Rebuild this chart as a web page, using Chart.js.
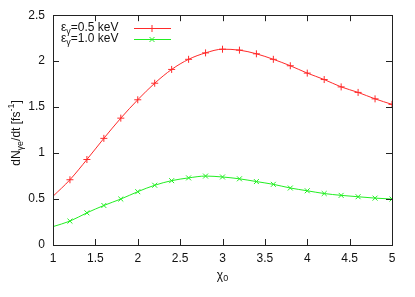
<!DOCTYPE html>
<html>
<head>
<meta charset="utf-8">
<script src="https://cdn.jsdelivr.net/npm/chart.js@4"></script>
<style>
html,body{margin:0;padding:0;background:#fff;}
#wrap{width:415px;height:297px;position:relative;}
</style>
</head>
<body>
<div id="wrap"><canvas id="c" width="415" height="297"></canvas></div>
<script>
const chi0 = [1.0,1.2,1.4,1.6,1.8,2.0,2.2,2.4,2.6,2.8,3.0,3.2,3.4,3.6,3.8,4.0,4.2,4.4,4.6,4.8,5.0];
const rate05 = [0.53,0.71,0.93,1.16,1.38,1.58,1.76,1.91,2.02,2.09,2.13,2.12,2.08,2.02,1.95,1.87,1.80,1.72,1.66,1.59,1.53];
const rate10 = [0.20,0.26,0.35,0.43,0.50,0.58,0.65,0.70,0.73,0.75,0.74,0.72,0.69,0.66,0.62,0.59,0.56,0.54,0.525,0.51,0.50];
const xTicks = [1,1.5,2,2.5,3,3.5,4,4.5,5];
const yTicks = [0,0.5,1,1.5,2,2.5];
const seriesNames = [["ε","γ","=0.5 keV"],["ε","γ","=1.0 keV"]];
const RED = '#ff2a2a', GREEN = '#22ee22';
const FONT = 'Liberation Sans, Arial, sans-serif';

function toXY(ys){ return chi0.map((x,i)=>({x:x,y:ys[i]})); }

const framePlugin = {
  id:'frame',
  afterDatasetsDraw(chart){
    const ctx = chart.ctx, a = chart.chartArea;
    const xs = chart.scales.x, ys = chart.scales.y;
    ctx.save();
    ctx.strokeStyle = '#222';
    ctx.lineWidth = 1;
    ctx.strokeRect(Math.round(a.left)+0.5, Math.round(a.top)+0.5, Math.round(a.right-a.left), Math.round(a.bottom-a.top));
    const L = 6;
    ctx.beginPath();
    xTicks.forEach(v=>{
      const px = Math.round(xs.getPixelForValue(v))+0.5;
      ctx.moveTo(px, a.bottom); ctx.lineTo(px, a.bottom-L);
      ctx.moveTo(px, a.top); ctx.lineTo(px, a.top+L);
    });
    yTicks.forEach(v=>{
      const py = Math.round(ys.getPixelForValue(v))+0.5;
      ctx.moveTo(a.left, py); ctx.lineTo(a.left+L, py);
      ctx.moveTo(a.right, py); ctx.lineTo(a.right-L, py);
    });
    ctx.stroke();

    // legend
    const colors=[RED,GREEN], styles=['cross','crossRot'];
    const rowY=[28,39];
    ctx.textBaseline='middle';
    seriesNames.forEach((parts,i)=>{
      let x = a.left+8, y = rowY[i];
      ctx.fillStyle='#111';
      ctx.font = '12px '+FONT;
      ctx.textAlign='left';
      ctx.fillText(parts[0], x, y); x += ctx.measureText(parts[0]).width;
      ctx.font = '9px '+FONT;
      ctx.fillText(parts[1], x, y+4); x += ctx.measureText(parts[1]).width;
      ctx.font = '12px '+FONT;
      ctx.fillText(parts[2], x, y);
      ctx.strokeStyle=colors[i]; ctx.lineWidth=1;
      ctx.beginPath(); ctx.moveTo(134,y+0.5); ctx.lineTo(171,y+0.5); ctx.stroke();
      Chart.helpers.drawPoint(ctx,{pointStyle:styles[i],radius:3.5,borderWidth:1},152,y+0.5);
    });

    // y axis title (rotated)
    ctx.save();
    ctx.translate(17, 133);
    ctx.rotate(-Math.PI/2);
    ctx.fillStyle='#111';
    const segs=[['dN','12',0],['γe','9',4],['/dt [fs','12',0],['-1','9',-5],[']','12',0]];
    let tw=0;
    segs.forEach(s=>{ctx.font=s[1]+'px '+FONT; tw+=ctx.measureText(s[0]).width;});
    let xx=-tw/2;
    ctx.textAlign='left';
    segs.forEach(s=>{ctx.font=s[1]+'px '+FONT; ctx.fillText(s[0],xx,s[2]); xx+=ctx.measureText(s[0]).width;});
    ctx.restore();

    // x axis title
    ctx.fillStyle='#111';
    ctx.textAlign='left';
    ctx.font='12px '+FONT;
    const cx=(a.left+a.right)/2;
    const w1=ctx.measureText('χ').width;
    ctx.font='9px '+FONT;
    const w2=ctx.measureText('0').width;
    let sx=cx-(w1+w2)/2;
    ctx.font='12px '+FONT;
    ctx.fillText('χ',sx,276);
    ctx.font='9px '+FONT;
    ctx.fillText('0',sx+w1,279);
    ctx.restore();
  }
};

new Chart(document.getElementById('c'),{
  type:'line',
  data:{
    datasets:[
      {label:'εγ=0.5 keV',data:toXY(rate05),borderColor:RED,backgroundColor:RED,borderWidth:1,
       pointStyle:'cross',pointRadius:c=>c.dataIndex===0?0:3.5,pointBorderWidth:1,cubicInterpolationMode:'monotone',fill:false},
      {label:'εγ=1.0 keV',data:toXY(rate10),borderColor:GREEN,backgroundColor:GREEN,borderWidth:1,
       pointStyle:'crossRot',pointRadius:c=>c.dataIndex===0?0:3.5,pointBorderWidth:1,cubicInterpolationMode:'monotone',fill:false}
    ]
  },
  options:{
    responsive:false,animation:false,devicePixelRatio:1,
    layout:{padding:{top:15,right:23,left:0,bottom:0}},
    plugins:{legend:{display:false},tooltip:{enabled:false}},
    scales:{
      x:{type:'linear',min:1,max:5,
         afterFit(s){s.height=52;},
         afterBuildTicks(s){s.ticks=xTicks.map(v=>({value:v}));},
         grid:{display:false,drawTicks:false},border:{display:false},
         ticks:{padding:6,color:'#111',font:{family:FONT,size:12},maxRotation:0,autoSkip:false,callback:v=>String(v)}},
      y:{type:'linear',min:0,max:2.5,
         afterFit(s){s.width=53;},
         afterBuildTicks(s){s.ticks=yTicks.map(v=>({value:v}));},
         grid:{display:false,drawTicks:false},border:{display:false},
         ticks:{padding:8,color:'#111',font:{family:FONT,size:12},callback:v=>String(v)}}
    }
  },
  plugins:[framePlugin]
});
</script>
</body>
</html>
